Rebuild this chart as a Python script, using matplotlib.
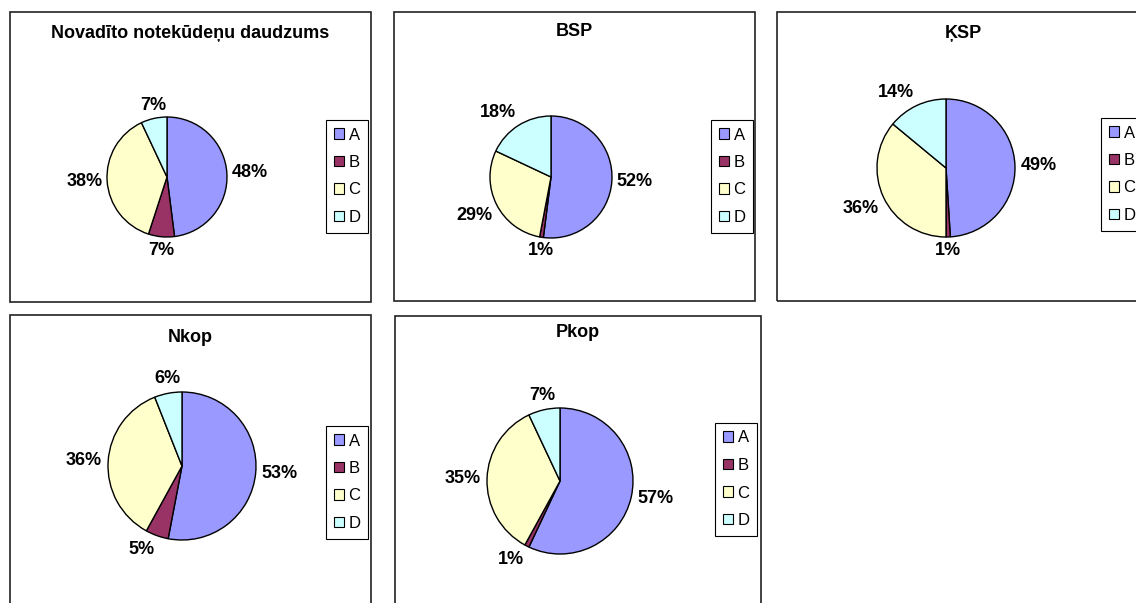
import matplotlib.pyplot as plt
from matplotlib.patches import Rectangle, Patch

plt.rcParams['font.family'] = ['Liberation Sans', 'DejaVu Sans']

# Data
categories = ['A', 'B', 'C', 'D']
titles = ['Novadīto notekūdeņu daudzums', 'BSP', 'ĶSP', 'Nkop', 'Pkop']
shares = [
    [48, 7, 38, 7],
    [52, 1, 29, 18],
    [49, 1, 36, 14],
    [53, 5, 36, 6],
    [57, 1, 35, 7],
]
colors = ['#9999FF', '#993366', '#FFFFCC', '#CCFFFF']

W, H = 1136, 603
fig = plt.figure(figsize=(W / 100, H / 100), dpi=100)

# layout in pixels: panel box (x0, y0, x1, y1), pie centre + radius, legend top-left
panels = [
    dict(box=(10, 12, 371, 302), pie=(167, 177, 60), leg=(326, 120), ty=33),
    dict(box=(394, 12, 755, 301), pie=(551, 177, 61), leg=(711, 120), ty=32),
    dict(box=(777, 12, 1149, 301), pie=(946, 168, 69), leg=(1101, 118), ty=33),
    dict(box=(10, 315, 371, 620), pie=(182, 466, 74), leg=(326, 426), ty=338),
    dict(box=(395, 316, 761, 620), pie=(560, 481, 73), leg=(715, 423), ty=332),
]


def px(x, y):
    return x / W, 1 - y / H


for p, title, vals in zip(panels, titles, shares):
    x0, y0, x1, y1 = p['box']
    fig.patches.append(Rectangle(px(x0, y1), (x1 - x0) / W, (y1 - y0) / H,
                                 transform=fig.transFigure, fill=False,
                                 edgecolor='#222222', linewidth=1.2))
    fig.text((x0 + x1) / 2 / W, 1 - p['ty'] / H, title, ha='center', va='center',
             fontsize=13, fontweight='bold')

    cx, cy, r = p['pie']
    ax = fig.add_axes([(cx - r) / W, 1 - (cy + r) / H, 2 * r / W, 2 * r / H])
    wedges, texts = ax.pie(vals, colors=colors, startangle=90, counterclock=False,
                           labels=[f'{v}%' for v in vals], labeldistance=1.08,
                           wedgeprops=dict(edgecolor='black', linewidth=1.0),
                           textprops=dict(fontsize=13, fontweight='bold'))
    for t in texts:
        tx, ty = t.get_position()
        t.set_ha('left' if tx > 0.3 else ('right' if tx < -0.3 else 'center'))
        t.set_va('bottom' if ty > 0.3 else ('top' if ty < -0.3 else 'center'))
    ax.set_xlim(-1, 1)
    ax.set_ylim(-1, 1)
    ax.axis('off')

    handles = [Patch(facecolor=c, edgecolor='black', linewidth=0.8) for c in colors]
    lx, ly = p['leg']
    leg = fig.legend(handles, categories, loc='upper left', bbox_to_anchor=px(lx, ly),
                     borderaxespad=0, fontsize=12, handlelength=0.6, handleheight=0.6,
                     handletextpad=0.3, labelspacing=0.75, borderpad=0.45,
                     fancybox=False, framealpha=1)
    leg.get_frame().set_edgecolor('black')
    leg.get_frame().set_linewidth(0.8)

fig.savefig('out.png', dpi=100)
